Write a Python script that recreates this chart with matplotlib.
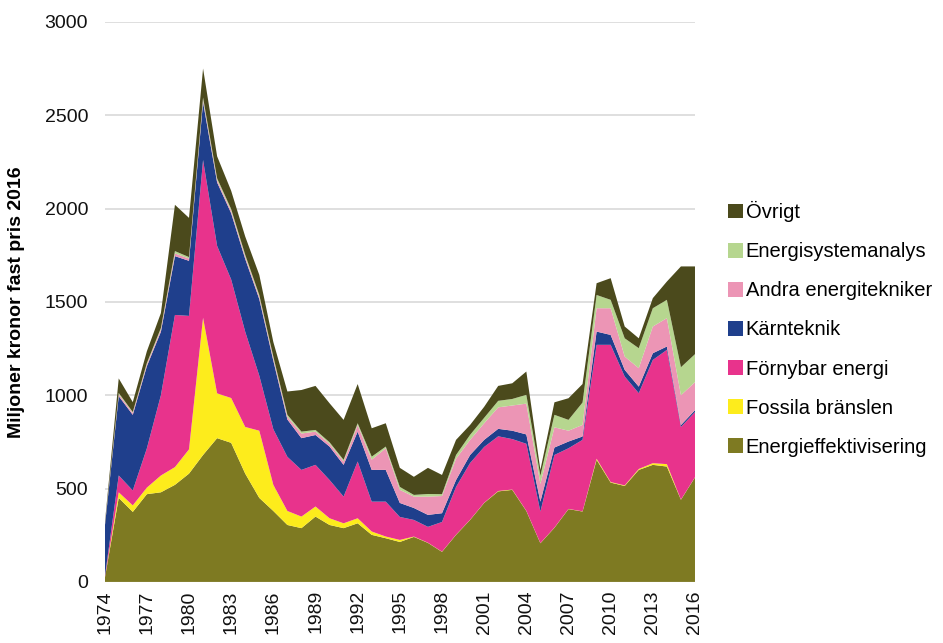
import matplotlib
matplotlib.use("Agg")
import matplotlib.pyplot as plt

plt.rcParams['font.family'] = ['Liberation Sans', 'DejaVu Sans']

years = list(range(1974, 2017))

# Miljoner kronor fast pris 2016
energieffektivisering = [15, 450, 375, 470, 480, 520, 580, 680, 770, 745, 580, 450, 380, 305, 288,
                         350, 305, 288, 314, 252, 234, 214, 241, 209, 161, 252, 332, 423, 485, 493,
                         380, 207, 290, 390, 377, 654, 532, 514, 600, 627, 618, 440, 560]
fossila = [0, 30, 35, 35, 90, 95, 130, 735, 240, 240, 250, 360, 140, 75, 62,
           54, 36, 26, 27, 18, 9, 11, 2, 1, 1, 1, 1, 1, 2, 2,
           1, 1, 1, 1, 1, 6, 3, 3, 5, 9, 13, 1, 1]
fornybar = [5, 90, 80, 210, 430, 815, 715, 845, 790, 635, 510, 295, 298, 290, 250,
            223, 205, 143, 304, 160, 187, 123, 89, 85, 159, 256, 304, 299, 293, 270,
            359, 169, 389, 325, 383, 610, 735, 583, 406, 553, 612, 389, 349]
karnteknik = [270, 425, 405, 440, 340, 315, 295, 310, 340, 355, 390, 410, 367, 200, 170,
              160, 179, 170, 160, 170, 170, 75, 64, 64, 47, 37, 43, 38, 40, 45,
              50, 53, 40, 36, 18, 71, 53, 36, 35, 36, 18, 10, 10]
andra = [5, 10, 10, 10, 12, 15, 12, 12, 12, 12, 12, 12, 12, 15, 25,
         18, 15, 18, 35, 55, 116, 70, 61, 98, 92, 114, 81, 89, 115, 135,
         165, 95, 108, 58, 62, 125, 143, 71, 99, 143, 152, 160, 150]
systemanalys = [3, 7, 5, 7, 8, 12, 8, 13, 10, 10, 10, 10, 10, 10, 10,
                9, 8, 9, 10, 16, 9, 16, 9, 14, 10, 20, 27, 29, 35, 35,
                47, 43, 67, 58, 120, 71, 45, 98, 107, 98, 98, 150, 150]
ovrigt = [7, 78, 53, 63, 80, 248, 210, 155, 118, 98, 98, 108, 78, 125, 223,
          236, 209, 214, 210, 152, 125, 102, 97, 140, 103, 81, 53, 59, 80, 84,
          125, 32, 67, 116, 99, 63, 116, 63, 53, 54, 98, 540, 470]

labels = ['Energieffektivisering', 'Fossila bränslen', 'Förnybar energi', 'Kärnteknik',
          'Andra energitekniker', 'Energisystemanalys', 'Övrigt']
colors = ['#7e7a22', '#fdec1c', '#e8338c', '#1f3f8c', '#ec95b5', '#b6d68f', '#4b4a1c']

fig = plt.figure(figsize=(9.43, 6.43), dpi=100)
ax = fig.add_axes([0.111, 0.095, 0.626, 0.871])

polys = ax.stackplot(years, energieffektivisering, fossila, fornybar, karnteknik,
                     andra, systemanalys, ovrigt, colors=colors, labels=labels, lw=0)

ax.set_xlim(1974, 2016)
ax.set_ylim(0, 3000)
ax.set_yticks(range(0, 3001, 500))
ax.set_xticks(years[::3])
ax.set_xticklabels([str(y) for y in years[::3]], rotation=90)
ax.tick_params(axis='both', length=0, labelsize=14, colors='#111111')
ax.tick_params(axis='y', pad=12)
ax.tick_params(axis='x', pad=6)
ax.grid(axis='y', color='#d9d9d9', lw=1.2)
ax.set_axisbelow(True)
for s in ax.spines.values():
    s.set_visible(False)

ax.set_ylabel('Miljoner kronor fast pris 2016', fontsize=14, fontweight='bold', labelpad=14)

handles, labs = ax.get_legend_handles_labels()
leg = fig.legend(handles[::-1], labs[::-1], loc='upper left', bbox_to_anchor=(0.763, 0.70),
                 frameon=False, fontsize=14.5, handlelength=0.75, handleheight=0.75,
                 handletextpad=0.15, labelspacing=1.0, borderaxespad=0)

fig.savefig('out.png', dpi=100)
